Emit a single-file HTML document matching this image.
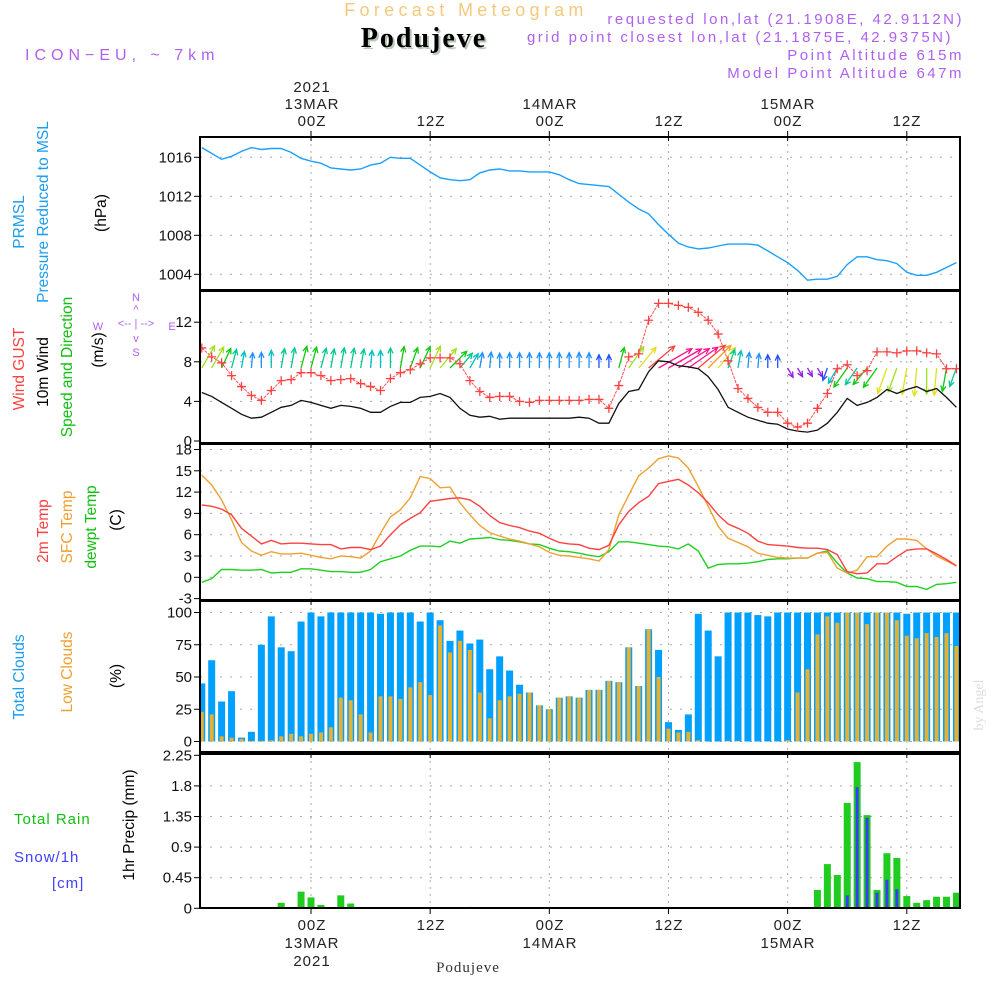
<!DOCTYPE html>
<html><head><meta charset="utf-8"><style>
html,body{margin:0;padding:0;background:#fff;}
svg{display:block;font-family:"Liberation Sans",sans-serif;}
</style></head><body>
<svg id="chart" width="1000" height="1000" viewBox="0 0 1000 1000" xmlns="http://www.w3.org/2000/svg">
<rect x="0" y="0" width="1000" height="1000" fill="#fff"/>
<text x="466" y="16" text-anchor="middle" font-size="18" fill="#f5c97c" letter-spacing="4.3">Forecast Meteogram</text>
<text x="426" y="49" text-anchor="middle" font-size="28" font-weight="bold" font-family="Liberation Serif,serif" fill="#b8c8b8" letter-spacing="2">Podujeve</text>
<text x="424" y="47" text-anchor="middle" font-size="28" font-weight="bold" font-family="Liberation Serif,serif" fill="#000" letter-spacing="2">Podujeve</text>
<text x="25" y="60" font-size="16" fill="#b060f0" letter-spacing="5">ICON−EU, ~ 7km</text>
<g font-size="15" fill="#b060f0" text-anchor="end" letter-spacing="2.5">
<text x="964" y="24">requested lon,lat (21.1908E, 42.9112N)</text>
<text x="953" y="42">grid point closest lon,lat (21.1875E, 42.9375N)</text>
<text x="964" y="60">Point Altitude 615m</text>
<text x="964" y="78">Model Point Altitude 647m</text>
</g>
<g font-size="15" fill="#222" text-anchor="middle" letter-spacing="1">
<text x="312" y="92">2021</text>
<text x="312" y="109">13MAR</text>
<text x="312" y="126">00Z</text>
<text x="431" y="126">12Z</text>
<text x="550" y="109">14MAR</text>
<text x="550" y="126">00Z</text>
<text x="669" y="126">12Z</text>
<text x="788" y="109">15MAR</text>
<text x="788" y="126">00Z</text>
<text x="907" y="126">12Z</text>
<text x="312" y="930">00Z</text>
<text x="312" y="948">13MAR</text>
<text x="312" y="966">2021</text>
<text x="431" y="930">12Z</text>
<text x="550" y="930">00Z</text>
<text x="550" y="948">14MAR</text>
<text x="669" y="930">12Z</text>
<text x="788" y="930">00Z</text>
<text x="788" y="948">15MAR</text>
<text x="907" y="930">12Z</text>
</g>
<text x="468" y="972" text-anchor="middle" font-size="15" font-family="Liberation Serif,serif" fill="#333" letter-spacing="1">Podujeve</text>
<text transform="rotate(-90 983 705)" x="983" y="705" text-anchor="middle" font-size="14" font-family="Liberation Serif,serif" fill="#ddd">by Angel</text>
<g font-size="15.5" text-anchor="middle">
<text transform="rotate(-90 24 222)" x="24" y="222" fill="#1a9cf0">PRMSL</text>
<text transform="rotate(-90 48 212)" x="48" y="212" fill="#1a9cf0">Pressure Reduced to MSL</text>
<text transform="rotate(-90 106 213)" x="106" y="213" fill="#000">(hPa)</text>
<text transform="rotate(-90 24 369)" x="24" y="369" fill="#ff4040">Wind GUST</text>
<text transform="rotate(-90 48 372)" x="48" y="372" fill="#000">10m Wind</text>
<text transform="rotate(-90 72 367)" x="72" y="367" fill="#10c010">Speed and Direction</text>
<text transform="rotate(-90 103 350)" x="103" y="350" fill="#000">(m/s)</text>
<text transform="rotate(-90 48 531)" x="48" y="531" fill="#ff4040">2m Temp</text>
<text transform="rotate(-90 72 527)" x="72" y="527" fill="#f0a030">SFC Temp</text>
<text transform="rotate(-90 96 527)" x="96" y="527" fill="#10c010">dewpt Temp</text>
<text transform="rotate(-90 121 520)" x="121" y="520" fill="#000">(C)</text>
<text transform="rotate(-90 24 677)" x="24" y="677" fill="#1a9cf0">Total Clouds</text>
<text transform="rotate(-90 72 672)" x="72" y="672" fill="#f0a030">Low Clouds</text>
<text transform="rotate(-90 121 676)" x="121" y="676" fill="#000">(%)</text>
<text transform="rotate(-90 134 825)" x="134" y="825" fill="#000">1hr Precip (mm)</text>
</g>
<g font-size="15" letter-spacing="1">
<text x="14" y="824" fill="#10c010">Total  Rain</text>
<text x="14" y="862" fill="#4040ff">Snow/1h</text>
<text x="52" y="888" fill="#4040ff">[cm]</text>
</g>
<g font-size="11" fill="#b060f0" text-anchor="middle">
<text x="136" y="301">N</text><text x="136" y="313">^</text><text x="136" y="327">&lt;-- | --&gt;</text><text x="98" y="330">W</text><text x="172" y="330">E</text><text x="136" y="342">v</text><text x="136" y="356">S</text>
</g>
<g id="plot"></g>
</svg>
<script>
const startHour = -11;
const pressure = [1017.0,1016.4,1015.8,1016.1,1016.6,1017.0,1016.8,1016.9,1016.9,1016.5,1015.9,1015.6,1015.4,1014.9,1014.8,1014.7,1014.8,1015.2,1015.4,1016.0,1015.9,1015.9,1015.2,1014.5,1013.9,1013.7,1013.6,1013.7,1014.4,1014.7,1014.8,1014.6,1014.6,1014.5,1014.5,1014.5,1014.2,1013.7,1013.3,1013.2,1013.1,1013.0,1012.2,1011.4,1010.7,1010.2,1009.1,1008.1,1007.2,1006.8,1006.6,1006.7,1006.9,1007.1,1007.1,1007.1,1007.0,1006.4,1005.8,1005.2,1004.4,1003.4,1003.5,1003.5,1003.8,1005.0,1005.8,1005.8,1005.5,1005.4,1005.1,1004.2,1003.9,1003.9,1004.2,1004.7,1005.2];
const gust = [9.4,8.5,7.9,6.6,5.5,4.6,4.1,5.1,6.1,6.2,6.9,6.9,6.6,6.1,6.2,6.3,5.8,5.5,5.1,6.3,6.9,7.2,7.8,8.4,8.4,8.4,7.8,6.1,5.0,4.4,4.5,4.5,4.0,3.9,4.1,4.1,4.1,4.1,4.1,4.2,4.2,3.3,5.6,8.5,8.8,12.2,13.9,13.9,13.7,13.5,13.0,12.2,10.8,8.1,5.3,4.3,3.4,2.9,2.9,1.8,1.4,1.8,3.3,4.8,7.3,7.7,6.6,7.1,9.0,9.0,8.9,9.1,9.1,8.9,8.8,7.3,7.3];
const wind10 = [4.9,4.5,3.9,3.3,2.7,2.3,2.4,2.9,3.4,3.6,4.1,3.9,3.6,3.3,3.6,3.5,3.3,2.9,2.9,3.5,3.9,3.9,4.4,4.5,4.8,4.4,3.3,2.6,2.4,2.5,2.2,2.3,2.3,2.3,2.3,2.3,2.3,2.3,2.4,2.3,1.8,1.8,3.8,5.0,5.2,7.0,8.1,8.0,7.6,7.5,7.3,6.5,5.2,3.4,2.9,2.4,2.1,1.8,1.7,1.2,1.0,0.9,1.1,1.8,2.9,4.3,3.6,3.9,4.4,5.2,4.8,5.2,5.5,5.0,5.3,4.4,3.4];
const windDir = [30,30,25,15,10,5,0,0,10,10,15,15,15,10,10,10,10,5,0,0,10,20,25,25,40,45,40,30,10,5,0,0,0,0,0,0,0,0,0,0,0,0,15,35,40,50,60,60,58,55,50,45,40,20,10,5,5,0,0,150,150,150,150,200,210,215,215,220,215,200,200,190,185,180,185,190,200];
const t2m = [10.2,10.0,9.6,8.8,6.9,5.8,4.7,5.2,4.7,4.8,4.8,4.7,4.6,4.6,4.0,4.2,4.2,3.9,4.4,6.0,7.4,8.3,9.1,10.7,10.9,11.1,11.2,10.9,10.0,8.7,7.7,7.3,7.0,6.5,6.2,5.5,4.9,4.7,4.6,4.1,3.9,4.5,7.4,9.3,10.5,11.4,13.2,13.5,13.8,13.0,11.9,10.5,8.8,7.5,6.9,6.2,5.1,4.6,4.5,4.4,4.2,4.1,4.1,3.9,3.2,0.8,0.5,0.6,1.9,1.9,2.9,3.8,4.0,4.0,3.3,2.5,1.6];
const tsfc = [14.4,13.0,10.9,8.1,4.9,3.7,3.1,3.6,3.3,3.3,3.4,3.1,2.8,2.6,3.0,2.9,2.7,3.7,6.2,8.5,9.5,11.2,14.2,13.9,12.6,12.7,10.5,8.8,7.3,6.3,5.8,5.4,5.1,4.7,4.3,3.5,3.1,3.0,2.8,2.6,2.3,3.9,8.8,11.6,14.3,15.4,16.7,17.1,16.8,15.4,12.8,10.0,7.2,5.5,4.9,4.3,3.4,3.1,2.8,2.7,2.7,2.7,3.4,3.5,1.3,0.6,1.0,2.9,2.9,4.4,5.4,5.4,5.2,4.0,3.0,2.3,1.6];
const tdew = [-0.7,-0.2,1.1,1.1,1.0,1.0,1.1,0.6,0.7,0.7,1.2,1.2,1.0,0.8,0.8,0.7,0.7,1.1,2.2,2.6,3.0,3.8,4.4,4.4,4.3,5.1,4.8,5.4,5.5,5.6,5.3,5.2,5.0,4.7,4.6,4.1,3.7,3.6,3.4,3.1,2.9,3.6,5.0,5.0,4.8,4.6,4.4,4.3,4.0,4.7,3.7,1.3,1.8,1.9,1.9,2.0,2.2,2.5,2.6,2.6,2.7,2.7,3.4,3.7,2.0,0.6,-0.1,-0.2,-0.6,-0.6,-0.7,-1.3,-1.3,-1.7,-1.0,-0.9,-0.7];
const cloudTotal = [45,63,31,39,3,7.5,75,97,73,70,93,100,97,100,100,100,100,100,99,100,100,100,93,100,94,78,86,76,79,56,66,55,44,38,28,25,34,35,34,40,40,47,46,73,43,87,71,15,9,21,99,86,66,100,100,100,98,97,100,100,100,100,100,100,100,100,100,100,100,100,100,99,100,100,100,100,100];
const cloudLow = [23,21,4,3,2,0.5,0.5,1,4,6,4,6,7,11,34,32,21,7,35,35,33,42,46,36,90,69,78,71,38,18,32,35,37,38,28,25,34,35,34,40,40,47,46,73,43,87,50,10,7,7.5,1,0,0,0.5,0.5,0,0,0,0,1,38,56,83,97,92,100,100,91,100,100,94,82,80,84,81,84,74];
const rain = [0,0,0,0,0,0,0,0.005,0.08,0.02,0.245,0.16,0.05,0,0.19,0.07,0.015,0,0,0,0,0,0,0,0,0,0,0.02,0,0,0,0,0,0,0,0,0,0,0,0,0,0,0,0,0,0,0,0,0,0,0,0,0,0,0,0,0,0,0,0,0,0,0.27,0.65,0.49,1.55,2.15,1.37,0.27,0.81,0.74,0.18,0.08,0.12,0.17,0.17,0.23];
const snow = [0,0,0,0,0,0,0,0,0,0,0,0,0,0,0,0,0,0,0,0,0,0,0,0,0,0,0,0,0,0,0,0,0,0,0,0,0,0,0,0,0,0,0,0,0,0,0,0,0,0,0,0,0,0,0,0,0,0,0,0,0,0,0,0,0,0.19,1.78,1.33,0.23,0.42,0.28,0.02,0,0.02,0.02,0.02,0.02];
const pressureTicks = [1004,1008,1012,1016];
const windTicks = [0,4,8,12];
const tempTicks = [-3,0,3,6,9,12,15,18];
const cloudTicks = [0,25,50,75,100];
const precipTicks = ["0","0.45","0.9","1.35","1.8","2.25"];
const gridHours = [0,12,24,36,48,60];

const NS = "http://www.w3.org/2000/svg";
const plot = document.getElementById('plot');
function mk(tag, attrs, parent){ const e=document.createElementNS(NS,tag); for(const k in attrs) e.setAttribute(k,attrs[k]); (parent||plot).appendChild(e); return e; }
const X0 = 200, X1 = 960;
function xOf(h){ return 311 + h*9.93; }
function hourAt(i){ return startHour + i; }
const panels = {
  p: {top:137,bottom:290,y:v=>157.3+(1016-v)*9.75},
  w: {top:291,bottom:443,y:v=>441-v*9.9},
  t: {top:444,bottom:600,y:v=>577.3-v*7.1},
  c: {top:601,bottom:752,y:v=>741.5-v*1.29},
  r: {top:754,bottom:908,y:v=>908.3-v*68}
};
const defs = mk('defs',{});
for(const k in panels){ const cp=mk('clipPath',{id:'clip-'+k},defs); mk('rect',{x:X0,y:panels[k].top,width:X1-X0,height:panels[k].bottom-panels[k].top},cp); }

function grid(pk, ticks, labels, name){
  const P=panels[pk];
  const g=mk('g',{});
  
  
  gridHours.forEach(h=>{ mk('line',{x1:xOf(h),x2:xOf(h),y1:P.top,y2:P.bottom,stroke:'#aaa','stroke-dasharray':'2,5'},g);
    mk('line',{x1:xOf(h),x2:xOf(h),y1:P.top,y2:P.top+4,stroke:'#000'},g); });
  ticks.forEach((v,i)=>{ const y=P.y(v);
    if(y>P.top+2 && y<P.bottom-2) mk('line',{x1:X0,x2:X1,y1:y,y2:y,stroke:'#aaa','stroke-dasharray':'2,8'},g);
    mk('line',{x1:X0-6,x2:X0,y1:y,y2:y,stroke:'#000'},g);
    const t=mk('text',{x:X0-8,y:y+5,'text-anchor':'end','font-size':15,fill:'#111'},g); t.textContent=labels[i];
  });
}
grid('p',pressureTicks,pressureTicks.map(String),'pressure');
grid('w',windTicks,windTicks.map(String),'wind');
grid('t',tempTicks,tempTicks.map(String),'temp');
grid('c',cloudTicks,cloudTicks.map(String),'clouds');
grid('r',precipTicks.map(Number),precipTicks,'precip');

function line(pk, arr, color, name, w){
  const P=panels[pk];
  const pts=arr.map((v,i)=>xOf(hourAt(i)).toFixed(1)+','+P.y(v).toFixed(1)).join(' ');
  const e=mk('polyline',{points:pts,fill:'none',stroke:color,'stroke-width':w||1.3,'clip-path':'url(#clip-'+pk+')'});
  
  
  return e;
}
line('p',pressure,'#1aa0ff','pressure-line',1.4);

cloudTotal.forEach((v,i)=>{ const x=xOf(hourAt(i)); const P=panels.c;
  const b=mk('rect',{x:x-3.5,y:P.y(v),width:7,height:P.y(0)-P.y(v),fill:'#00a0ff','clip-path':'url(#clip-c)'});
  
  
});
cloudLow.forEach((v,i)=>{ const x=xOf(hourAt(i)); const P=panels.c;
  const b=mk('rect',{x:x-2,y:P.y(v),width:4,height:P.y(0)-P.y(v),fill:'#e8b030','clip-path':'url(#clip-c)'});
  
  
});
rain.forEach((v,i)=>{ if(v<=0) return; const x=xOf(hourAt(i)); const P=panels.r;
  const b=mk('rect',{x:x-3.5,y:P.y(v),width:7,height:P.y(0)-P.y(v),fill:'#20cc20','clip-path':'url(#clip-r)'});
  
  
});
snow.forEach((v,i)=>{ if(v<=0) return; const x=xOf(hourAt(i)); const P=panels.r;
  const b=mk('rect',{x:x-1.5,y:P.y(v),width:3,height:P.y(0)-P.y(v),fill:'#3a3aff','clip-path':'url(#clip-r)'});
  
  
});
line('t',tdew,'#20d020','dewpoint-line',1.4);
line('t',tsfc,'#f0a030','sfc-temp-line',1.4);
line('t',t2m,'#ff4040','t2m-line',1.4);
function speedColor(s){
  if(s<1.4) return '#9020e0';
  if(s<2.0) return '#2050ff';
  if(s<2.6) return '#1e90ff';
  if(s<3.2) return '#00c0c0';
  if(s<3.7) return '#00c890';
  if(s<4.5) return '#10c810';
  if(s<5.1) return '#a0e020';
  if(s<6.0) return '#e0e020';
  if(s<6.8) return '#f0a020';
  if(s<7.5) return '#ff4040';
  return '#ff1090';
}
windDir.forEach((d,i)=>{ const s=wind10[i]; const x=xOf(hourAt(i)); const y0=368;
  const L=4*s+6; const r=d*Math.PI/180; const x2=x+L*Math.sin(r), y2=y0-L*Math.cos(r);
  const c=speedColor(s);
  const g=mk('g',{stroke:c,'stroke-width':1.3,fill:'none','clip-path':'url(#clip-w)'});
  
  
  mk('line',{x1:x,y1:y0,x2:x2,y2:y2},g);
  const a1=r+Math.PI-0.45, a2=r+Math.PI+0.45, hl=6;
  mk('polyline',{points:(x2+hl*Math.sin(a1))+','+(y2-hl*Math.cos(a1))+' '+x2+','+y2+' '+(x2+hl*Math.sin(a2))+','+(y2-hl*Math.cos(a2))},g);
});
line('w',wind10,'#111','wind10-line',1.3);
const gl=line('w',gust,'#ff5050','gust-line',1);
gl.setAttribute('stroke-dasharray','3,1');
gust.forEach((v,i)=>{ const x=xOf(hourAt(i)), y=panels.w.y(v);
  const m=mk('path',{d:'M'+(x-4.5)+' '+y+'H'+(x+4.5)+'M'+x+' '+(y-4.5)+'V'+(y+4.5),stroke:'#ff4040','stroke-width':1.3,'clip-path':'url(#clip-w)'});
  
  
});
for(const k in panels){ const P=panels[k];
  const f=mk('rect',{x:X0,y:P.top,width:X1-X0,height:P.bottom-P.top,fill:'none',stroke:'#000','stroke-width':2});
  
  
}
gridHours.forEach(h=>{ mk('line',{x1:xOf(h),x2:xOf(h),y1:908,y2:914,stroke:'#000'}); mk('line',{x1:xOf(h),x2:xOf(h),y1:131,y2:137,stroke:'#000'}); });
</script>
</body></html>
